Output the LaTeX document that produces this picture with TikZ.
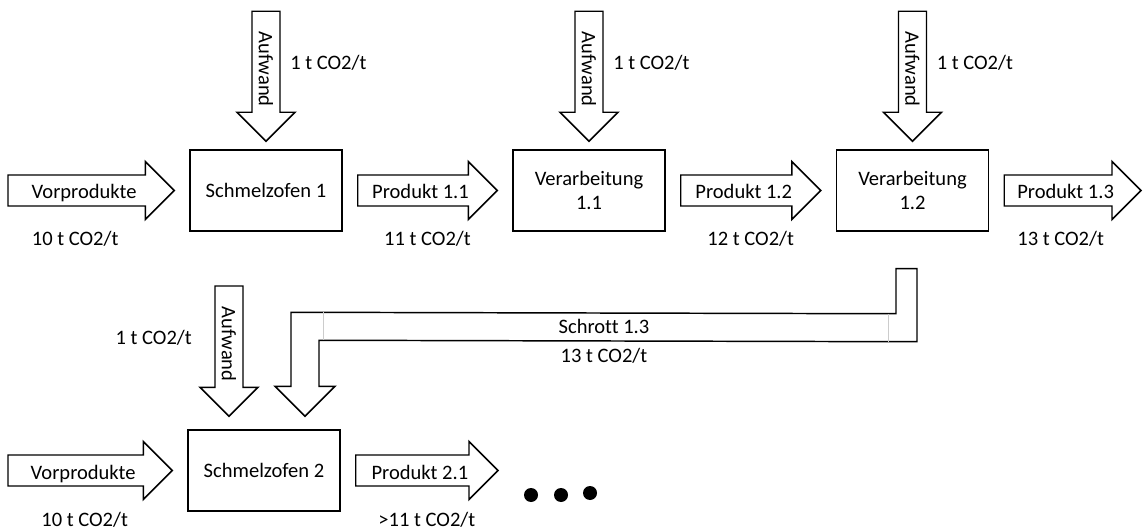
\documentclass[tikz,border=0pt]{standalone}
\usepackage{fontspec}
\setmainfont{Carlito}[Ligatures=NoCommon]
\usetikzlibrary{calc}

\tikzset{
  prozess/.style={draw, line width=1.1pt, minimum width=114pt, minimum height=60.75pt, align=center, inner sep=2pt},
  fatpfeil/.style={draw, line width=1.1pt, fill=white, line join=miter},
  wert/.style={anchor=base, inner sep=0pt},
}
\newcommand{\schaft}{15.5}
\newcommand{\vschaft}{14}
\newcommand{\kopf}{29}
% Blockpfeil nach rechts / nach unten, von #1 bis Spitze #2
\newcommand{\fatright}[2]{%
  \draw[fatpfeil] ($(#1)+(0,-\schaft)$) -- ($(#2)+(-\kopf,-\schaft)$) -- ($(#2)+(-\kopf,-\kopf)$) -- (#2)
    -- ($(#2)+(-\kopf,\kopf)$) -- ($(#2)+(-\kopf,\schaft)$) -- ($(#1)+(0,\schaft)$) -- cycle;}
\newcommand{\fatdown}[2]{%
  \draw[fatpfeil] ($(#1)+(-\vschaft,0)$) -- ($(#2)+(-\vschaft,-\kopf)$) -- ($(#2)+(-\kopf,-\kopf)$) -- (#2)
    -- ($(#2)+(\kopf,-\kopf)$) -- ($(#2)+(\vschaft,-\kopf)$) -- ($(#1)+(\vschaft,0)$) -- cycle;}

\begin{document}
\begin{tikzpicture}[x=0.75pt, y=-0.75pt, font=\fontsize{15.4pt}{18.5pt}\selectfont]
\useasboundingbox (0,0) rectangle (1143,531);

% Prozesse
\node[prozess] (ofen1) at (266,190.5) {Schmelzofen 1};
\node[prozess] (verarb1) at (589,190.5) {Verarbeitung\\1.1};
\node[prozess] (verarb2) at (912.5,190.5) {Verarbeitung\\1.2};
\node[prozess] (ofen2) at (264,470.5) {Schmelzofen 2};

% Enden der Produktpfeile
\coordinate (vor1a) at (8,190.5);
\coordinate (vor1b) at ($(ofen1.west)+(-15,0)$);
\coordinate (p11a) at ($(ofen1.east)+(15,0)$);
\coordinate (p11b) at ($(verarb1.west)+(-15,0)$);
\coordinate (p12a) at ($(verarb1.east)+(15,0)$);
\coordinate (p12b) at ($(verarb2.west)+(-15,0)$);
\coordinate (p13a) at ($(verarb2.east)+(15,0)$);
\coordinate (p13b) at (1141,190.5);
\coordinate (vor2a) at (8,470.5);
\coordinate (vor2b) at ($(ofen2.west)+(-15,0)$);
\coordinate (p21a) at ($(ofen2.east)+(15,0)$);
\coordinate (p21b) at (498,470.5);

\foreach \p/\txt/\val/\dx in {vor1/Vorprodukte/10/-16, p11/Produkt 1.1/11/0, p12/Produkt 1.2/12/0,
    p13/Produkt 1.3/13/-12, vor2/Vorprodukte/10/-5.5, p21/Produkt 2.1/>11/0} {
  \fatright{\p a}{\p b}
  \node[wert] (\p-txt) at ($(\p a)!0.5!(\p b)+(-7,8.5)$) {\txt};
  \node[wert] (\p-val) at ($(\p a)!0.5!(\p b)+(\dx,55.5)$) {\val\ t CO2/t};
}

% Aufwand
\foreach \n/\b in {1/ofen1, 2/verarb1, 3/verarb2} {
  \coordinate (auf\n a) at ($(\b.north)+(0,-138)$);
  \coordinate (auf\n b) at ($(\b.north)+(0,-8)$);
  \fatdown{auf\n a}{auf\n b}
  \node[rotate=-90] (auf\n-txt) at ($(auf\n a)!0.5!(auf\n b)+(0,-7)$) {Aufwand};
  \node[wert, anchor=base west] (auf\n-val) at ($(auf\n a)+(24,58)$) {1 t CO2/t};
}
\coordinate (auf4a) at (229,286);
\coordinate (auf4b) at ($(ofen2.north)+(-35,-13)$);
\fatdown{auf4a}{auf4b}
\node[rotate=-90] (auf4-txt) at ($(auf4a)!0.5!(auf4b)+(0,-7)$) {Aufwand};
\node[wert, anchor=base east] (auf4-val) at ($(auf4a)+(-37,58)$) {1 t CO2/t};

% Schrott zurueck
\coordinate (schrotta) at ($(verarb2.south)+(-6,37)$);
\coordinate (schrottb) at ($(ofen2.north)+(41,-13)$);
\draw[fatpfeil] ($(schrotta)+(-10.5,0)$) -- ($(schrotta)+(10.5,0)$) -- ($(schrotta)+(10.5,73)$)
  -- ($(schrottb)+(14,-76)$) -- ($(schrottb)+(14,-30)$) -- ($(schrottb)+(30,-30)$) -- (schrottb)
  -- ($(schrottb)+(-30,-30)$) -- ($(schrottb)+(-14,-30)$) -- ($(schrottb)+(-14,-104)$)
  -- ($(schrotta)+(-10.5,45)$) -- cycle;
\draw[gray!40, line width=0.6pt] ($(schrotta)+(-18.5,45)$) -- ($(schrotta)+(-18.5,73)$);
\draw[gray!40, line width=0.6pt] ($(schrottb)+(18,-104)$) -- ($(schrottb)+(18,-76)$);
\node[wert] (schrott-txt) at (604,333) {Schrott 1.3};
\node[wert] (schrott-val) at (604,362) {13 t CO2/t};

% usw.
\foreach \x/\y in {531/495, 561/495, 590/493}
  \fill (\x,\y) circle[radius=5.25pt];
\end{tikzpicture}
\end{document}
